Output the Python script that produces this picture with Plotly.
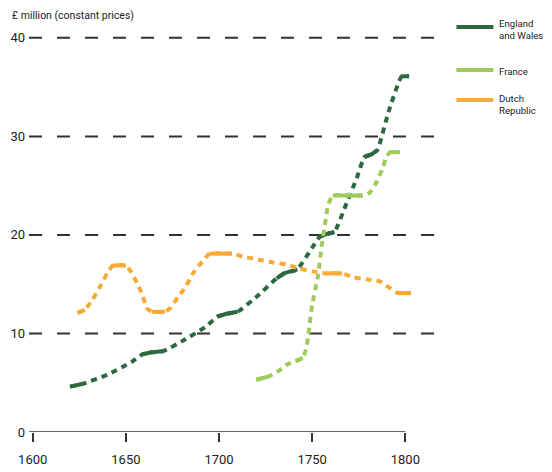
import plotly.graph_objects as go

# ---- data ----
england_years = [1620, 1627, 1640, 1653, 1659, 1664, 1670, 1681, 1693, 1699, 1704, 1710,
                 1720, 1731, 1735, 1742, 1750, 1754, 1758, 1762, 1768, 1774, 1778, 1782,
                 1785, 1791, 1798, 1802]
england_vals = [4.6, 4.9, 5.8, 7.1, 7.9, 8.1, 8.2, 9.3, 10.7, 11.7, 12.0, 12.2,
                13.7, 15.6, 16.1, 16.5, 18.7, 19.8, 20.1, 20.3, 23.0, 25.8, 27.9, 28.2,
                28.6, 32.5, 36.1, 36.1]

france_years = [1720, 1726, 1732, 1737, 1741, 1745, 1747, 1748, 1750, 1753, 1755, 1757,
                1758.5, 1761, 1777, 1781, 1785, 1788, 1790, 1792, 1797]
france_vals = [5.3, 5.6, 6.2, 6.9, 7.2, 7.5, 8.6, 10.0, 12.9, 15.7, 18.8, 21.2,
               23.0, 24.0, 24.0, 24.3, 25.5, 26.9, 28.0, 28.4, 28.4]

dutch_years = [1624, 1628, 1632, 1636, 1640, 1643, 1650, 1653, 1656, 1659, 1661, 1664,
               1671, 1674, 1678, 1682, 1686, 1691, 1695, 1707, 1713, 1721, 1729, 1736,
               1743, 1750, 1757, 1766, 1772, 1779, 1786, 1791, 1796, 1803]
dutch_vals = [12.1, 12.4, 13.4, 14.7, 16.1, 16.9, 16.9, 16.2, 15.1, 13.9, 12.6, 12.2,
              12.2, 12.6, 13.7, 14.7, 16.1, 17.3, 18.1, 18.1, 17.8, 17.5, 17.2, 17.0,
              16.6, 16.3, 16.1, 16.1, 15.7, 15.5, 15.3, 14.7, 14.1, 14.1]

# index ranges of the flat stretches that the source draws as solid strokes
england_flats = [(0, 1), (4, 6), (9, 11), (13, 15), (17, 19), (22, 24), (26, 27)]
france_flats = [(0, 1), (4, 5), (13, 14), (19, 20)]
dutch_flats = [(0, 1), (5, 6), (11, 12), (18, 19), (26, 27), (32, 33)]

x_ticks = [1600, 1650, 1700, 1750, 1800]
y_ticks = [0, 10, 20, 30, 40]
y_title = "£ million (constant prices)"
series_names = ["England<br>and Wales", "France", "Dutch<br>Republic"]
colors = ["#2d6841", "#9fcb5c", "#f8aa35"]

FONT = "Roboto, Liberation Sans, sans-serif"
TXT = "#222222"

# the page body has an 8px margin: work in window pixels, offset into figure
OFF = 8
W, H = 552 - OFF, 472 - OFF
L, T = 29 - OFF, 28 - OFF
PW, PH = 407.6, 404
R = W - L - PW
B = H - T - PH


def px(x):
    return (x - OFF - L) / PW


def py(y):
    return (T + PH - (y - OFF)) / PH


def fnt(size):
    return dict(family=FONT, size=size, color=TXT)


fig = go.Figure()
series = [(england_years, england_vals, england_flats),
          (france_years, france_vals, france_flats),
          (dutch_years, dutch_vals, dutch_flats)]
for (xs, ys, flats), name, c in zip(series, series_names, colors):
    fig.add_trace(go.Scatter(x=xs, y=ys, mode="lines", name=name,
                             line=dict(color=c, width=4, dash="6px,5px", shape="spline", smoothing=0.4),
                             showlegend=False, hoverinfo="skip"))
    for i0, i1 in flats:
        fig.add_trace(go.Scatter(x=xs[i0:i1 + 1], y=ys[i0:i1 + 1], mode="lines",
                                 line=dict(color=c, width=4, shape="spline", smoothing=0.4),
                                 showlegend=False, hoverinfo="skip"))

shapes = []
for v in y_ticks[1:]:
    shapes.append(dict(type="line", xref="paper", yref="y", x0=0, x1=1, y0=v, y1=v,
                       line=dict(color="#333333", width=2, dash="13px,15px"), layer="below"))
shapes.append(dict(type="line", xref="x", yref="y", x0=1597.5, x1=1800, y0=0, y1=0,
                   line=dict(color="#333333", width=1.5)))

annotations = []
leg_line_y = [27, 70, 100]
leg_text_y = [29, 72, 105]
for ly, ty, name, c in zip(leg_line_y, leg_text_y, series_names, colors):
    shapes.append(dict(type="line", xref="paper", yref="paper", x0=px(456), x1=px(493),
                       y0=py(ly), y1=py(ly), line=dict(color=c, width=4)))
    annotations.append(dict(xref="paper", yref="paper", x=px(497), y=py(ty), text=name,
                            showarrow=False, xanchor="left", yanchor="middle", align="left",
                            font=fnt(9.6)))
annotations.append(dict(xref="paper", yref="paper", x=px(10), y=py(16), text=y_title,
                        showarrow=False, xanchor="left", yanchor="middle", font=fnt(10.5)))

fig.update_layout(
    width=W, height=H,
    margin=dict(l=L, r=R, t=T, b=B, pad=0),
    paper_bgcolor="white", plot_bgcolor="white",
    font=fnt(12),
    shapes=shapes, annotations=annotations,
    xaxis=dict(range=[1598, 1817], tickvals=x_ticks, ticktext=[str(t) for t in x_ticks],
               showgrid=False, zeroline=False, showline=False, automargin=False,
               ticks="outside", ticklen=9, tickwidth=1.5, tickcolor="#333333",
               tickfont=fnt(13), ticklabelstandoff=6),
    yaxis=dict(range=[0, 41], tickvals=y_ticks, ticktext=[str(t) for t in y_ticks],
               showgrid=False, zeroline=False, showline=False, ticks="", automargin=False,
               tickfont=fnt(13), ticklabelstandoff=3),
)

fig.write_html("out.html")
